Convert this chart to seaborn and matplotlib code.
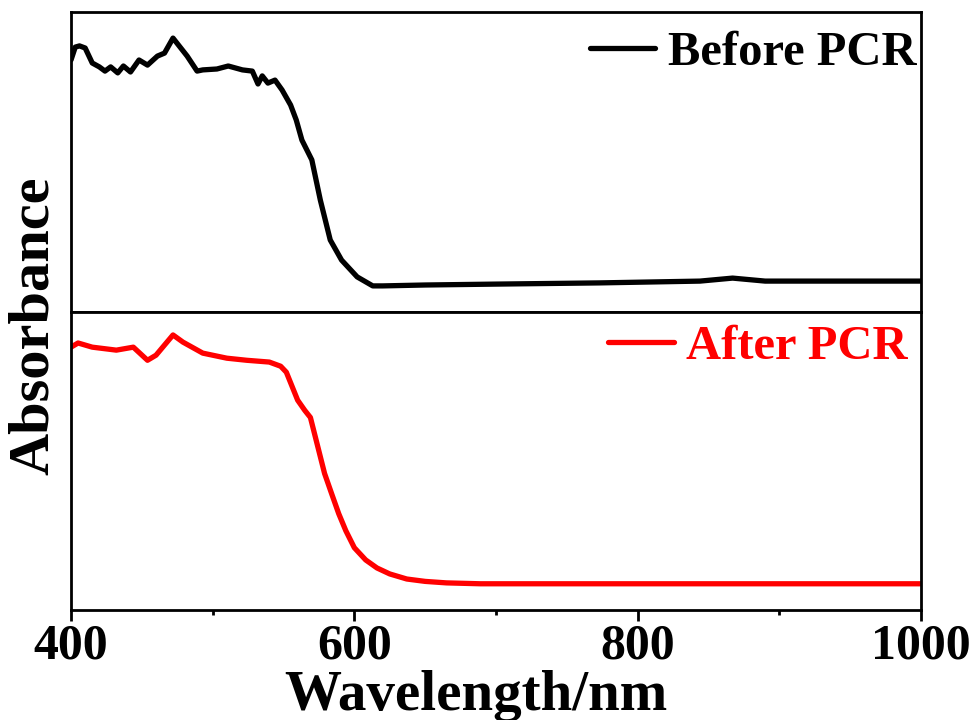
import numpy as np
import pandas as pd
import matplotlib
matplotlib.use("Agg")
import matplotlib.pyplot as plt
from matplotlib.ticker import MultipleLocator
import seaborn as sns

# Absorption spectra (arbitrary units, each panel normalised to 0..1)
wl_before = [400, 403, 406, 410, 415, 420, 424, 428, 433, 437, 442, 448, 454,
             461, 466, 472, 478, 482, 489, 493, 503, 511, 521, 528, 532, 535,
             539, 544, 549, 555, 559, 563, 570, 576, 583, 591, 602, 613, 620,
             650, 700, 773, 844, 867, 890, 1000]
abs_before = [0.84, 0.883, 0.887, 0.88, 0.83, 0.817, 0.803, 0.817, 0.797, 0.82,
              0.80, 0.84, 0.823, 0.853, 0.863, 0.913, 0.877, 0.853, 0.803,
              0.807, 0.81, 0.82, 0.807, 0.803, 0.76, 0.787, 0.763, 0.773, 0.74,
              0.69, 0.64, 0.573, 0.507, 0.373, 0.24, 0.173, 0.117, 0.087,
              0.087, 0.09, 0.093, 0.097, 0.103, 0.113, 0.103, 0.103]

wl_after = [400, 405, 415, 432, 444, 454, 460, 472, 479, 493, 510, 524, 540,
            548, 552, 560, 565, 569, 574, 579, 584, 589, 594, 600, 608, 616,
            625, 637, 650, 665, 689, 800, 1000]
abs_after = [0.882, 0.896, 0.882, 0.872, 0.882, 0.838, 0.855, 0.923, 0.899,
             0.862, 0.845, 0.838, 0.832, 0.818, 0.798, 0.704, 0.67, 0.646,
             0.552, 0.458, 0.39, 0.323, 0.266, 0.209, 0.168, 0.141, 0.121,
             0.104, 0.096, 0.091, 0.088, 0.088, 0.088]

x_ticks = [400, 600, 800, 1000]

sns.set_theme(style="ticks")
plt.rcParams["font.family"] = ["Liberation Serif", "DejaVu Serif"]
plt.rcParams["font.weight"] = "bold"
plt.rcParams["text.color"] = "black"
plt.rcParams["axes.labelcolor"] = "black"
plt.rcParams["xtick.color"] = "black"
plt.rcParams["ytick.color"] = "black"

fig = plt.figure(figsize=(9.74, 7.2), dpi=100)
ax_top = fig.add_axes([71 / 974, 1 - 312 / 720, 850 / 974, 300 / 720])
ax_bot = fig.add_axes([71 / 974, 1 - 610 / 720, 850 / 974, 298 / 720],
                      sharex=ax_top)

df_before = pd.DataFrame({"wl": wl_before, "A": abs_before})
df_after = pd.DataFrame({"wl": wl_after, "A": abs_after})

sns.lineplot(data=df_before, x="wl", y="A", ax=ax_top, color="black",
             lw=3.8, label="Before PCR", sort=False)
sns.lineplot(data=df_after, x="wl", y="A", ax=ax_bot, color="#ff0000",
             lw=3.8, label="After PCR", sort=False)

for ax in (ax_top, ax_bot):
    ax.set_xlim(400, 1000)
    ax.set_ylim(0, 1)
    ax.set_yticks([])
    ax.set_xlabel("")
    ax.set_ylabel("")
    for sp in ax.spines.values():
        sp.set_visible(True)
        sp.set_linewidth(2.0)
        sp.set_color("black")

ax_top.tick_params(axis="x", which="both", bottom=False, labelbottom=False)
ax_bot.xaxis.set_major_locator(MultipleLocator(200))
ax_bot.xaxis.set_minor_locator(MultipleLocator(100))
ax_bot.set_xticks(x_ticks)
ax_bot.tick_params(axis="x", which="major", direction="out", length=8,
                   width=2.0, pad=2, labelsize=36, colors="black")
ax_bot.tick_params(axis="x", which="minor", direction="out", length=3.5,
                   width=2.0)
for lbl in ax_bot.get_xticklabels():
    lbl.set_fontweight("bold")

leg_kw = dict(loc="upper right", frameon=False,
              handlelength=1.35, handletextpad=0.25, borderaxespad=0.0,
              borderpad=0.1, prop={"weight": "bold", "size": 35},
              labelcolor="linecolor")
ax_top.legend(bbox_to_anchor=(1.0, 0.953), **leg_kw)
ax_bot.legend(bbox_to_anchor=(0.99, 0.973), **leg_kw)

fig.text(476 / 974, 1 - 710 / 720, "Wavelength/nm", ha="center",
         va="baseline", fontsize=41, fontweight="bold")
fig.text(33.5 / 974, 1 - 326 / 720, "Absorbance", rotation=90, ha="center",
         va="center", fontsize=42, fontweight="bold")

fig.savefig("out.png", dpi=100)
